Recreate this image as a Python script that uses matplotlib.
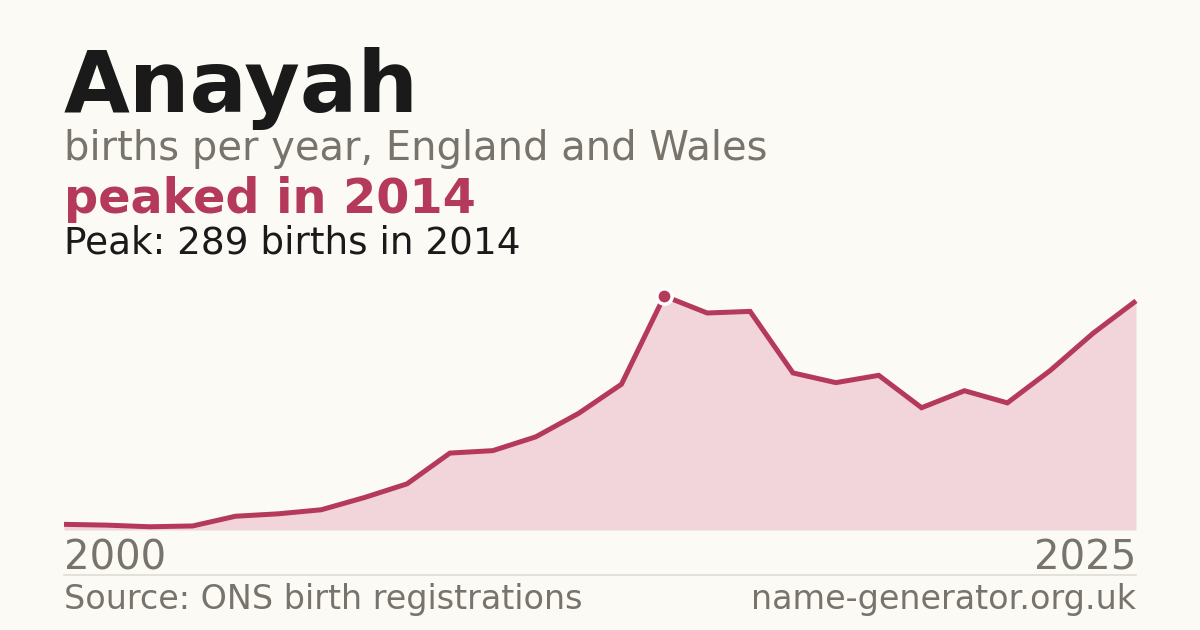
import matplotlib
matplotlib.use("Agg")
import matplotlib.pyplot as plt

plt.rcParams["font.family"] = ["DejaVu Sans"]

years = list(range(2000, 2026))
births = [7, 6, 4, 5, 17, 20, 25, 40, 57, 95, 98, 115, 144, 180, 289,
          268, 270, 194, 182, 191, 151, 172, 157, 197, 243, 283]
peak_year = 2014
peak_value = 289

title = "Anayah"
subtitle = "births per year, England and Wales"
headline = "peaked in 2014"
peak_text = "Peak: 289 births in 2014"
source = "Source: ONS birth registrations"
site = "name-generator.org.uk"

BG = "#fbfaf5"
LINE = "#b5395a"
FILL = "#f1d5da"
GREY = "#78736b"
DARK = "#1a1a1a"
RULE = "#e0dcd3"

W, H = 1200, 630
fig = plt.figure(figsize=(W / 100, H / 100), dpi=100, facecolor=BG)

def fx(px):
    return px / W

def fy(py):
    return 1 - py / H

ax = fig.add_axes([fx(64), fy(530), fx(1136) - fx(64), fy(296) - fy(530)])
ax.set_facecolor(BG)
ax.patch.set_alpha(0)
ax.fill_between(years, births, 0, color=FILL, linewidth=0)
ax.axhline(0, color=RULE, linewidth=1.0, zorder=1)
ax.plot(years, births, color=LINE, linewidth=3.6, solid_capstyle="butt",
        solid_joinstyle="miter", clip_on=False, zorder=3)
ax.plot([peak_year], [peak_value], marker="o", markersize=11,
        markerfacecolor=LINE, markeredgecolor="white", markeredgewidth=2.5,
        clip_on=False, zorder=5)
ax.set_xlim(years[0], years[-1])
ax.set_ylim(0, peak_value)
ax.axis("off")

fig.text(fx(64), fy(112), title, fontsize=61.3, fontweight="bold", color=DARK,
         ha="left", va="baseline")
fig.text(fx(64), fy(160), subtitle, fontsize=28.8, color=GREY,
         ha="left", va="baseline")
fig.text(fx(64), fy(213), headline, fontsize=34.4, fontweight="bold", color=LINE,
         ha="left", va="baseline")
fig.text(fx(64), fy(254), peak_text, fontsize=26.9, color=DARK,
         ha="left", va="baseline")

fig.text(fx(64), fy(570), str(years[0]), fontsize=28.9, color=GREY,
         ha="left", va="baseline")
fig.text(fx(1136), fy(570), str(years[-1]), fontsize=28.9, color=GREY,
         ha="right", va="baseline")

fig.add_artist(plt.Line2D([fx(64), fx(1136)], [fy(574.5), fy(574.5)],
                          color=RULE, linewidth=1.2))

fig.text(fx(64), fy(609), source, fontsize=24, color=GREY,
         ha="left", va="baseline")
fig.text(fx(1136), fy(609), site, fontsize=24, color=GREY,
         ha="right", va="baseline")

fig.savefig("out.png", dpi=100, facecolor=BG)
